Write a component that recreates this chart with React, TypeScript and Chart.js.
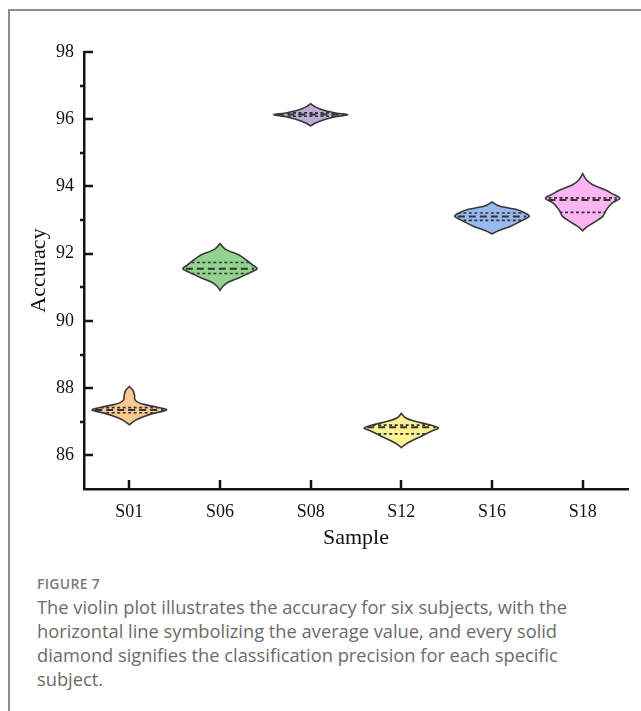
import React, { useEffect, useRef } from "react";
import { Chart, registerables } from "chart.js";

Chart.register(...registerables);

// ---------- data ----------
const categories = ["S01", "S06", "S08", "S12", "S16", "S18"];
const yTickValues = [86, 88, 90, 92, 94, 96, 98];
const yMinorTickValues = [87, 89, 91, 93, 95, 97];
const fillColors = ["#fdc991", "#93d390", "#bdacd8", "#fcf293", "#97b9f0", "#fcb4f2"];

// violin outlines: accuracy levels (top to bottom) and relative half-widths
const s01Levels = [88.05, 87.93, 87.78, 87.66, 87.57, 87.51, 87.43, 87.35, 87.25, 87.16, 87.05, 86.91];
const s01Widths = [0, 0.1, 0.14, 0.15, 0.25, 0.42, 0.75, 1.0, 0.65, 0.4, 0.17, 0];
const s06Levels = [92.3, 92.12, 91.97, 91.82, 91.67, 91.55, 91.43, 91.28, 91.15, 91.03, 90.91];
const s06Widths = [0, 0.16, 0.5, 0.7, 0.87, 1.0, 0.8, 0.5, 0.22, 0.08, 0];
const s08Levels = [96.46, 96.4, 96.33, 96.25, 96.18, 96.13, 96.08, 96.0, 95.92, 95.86, 95.8];
const s08Widths = [0, 0.08, 0.2, 0.4, 0.7, 1.0, 0.7, 0.4, 0.2, 0.08, 0];
const s12Levels = [87.25, 87.12, 87.02, 86.92, 86.82, 86.72, 86.57, 86.43, 86.33, 86.23];
const s12Widths = [0, 0.11, 0.34, 0.73, 1.0, 0.81, 0.54, 0.27, 0.11, 0];
const s16Levels = [93.54, 93.41, 93.31, 93.22, 93.11, 92.96, 92.81, 92.69, 92.59];
const s16Widths = [0, 0.22, 0.68, 0.87, 1.0, 0.76, 0.49, 0.19, 0];
const s18Levels = [94.38, 94.2, 94.05, 93.9, 93.78, 93.65, 93.51, 93.31, 93.11, 92.96, 92.81, 92.68];
const s18Widths = [0, 0.1, 0.27, 0.6, 0.8, 1.0, 0.8, 0.64, 0.54, 0.35, 0.13, 0];

const q3Values = [87.42, 91.74, 96.19, 86.9, 93.21, 93.66];
const medianValues = [87.35, 91.55, 96.14, 86.84, 93.11, 93.6];
const q1Values = [87.27, 91.41, 96.09, 86.64, 92.99, 93.23];

const violinLevels = [s01Levels, s06Levels, s08Levels, s12Levels, s16Levels, s18Levels];
const violinWidths = [s01Widths, s06Widths, s08Widths, s12Widths, s16Widths, s18Widths];

const SERIF = '"Liberation Serif", "Times New Roman", serif';
const AXIS_COLOR = "#151515";

type P = { x: number; y: number };

function smoothThrough(path: Path2D, pts: P[], moveFirst: boolean) {
  if (moveFirst) path.moveTo(pts[0].x, pts[0].y);
  for (let i = 0; i < pts.length - 1; i++) {
    const p0 = pts[i - 1] || pts[i];
    const p1 = pts[i];
    const p2 = pts[i + 1];
    const p3 = pts[i + 2] || p2;
    const c1 = { x: p1.x + (p2.x - p0.x) / 6, y: p1.y + (p2.y - p0.y) / 6 };
    const c2 = { x: p2.x - (p3.x - p1.x) / 6, y: p2.y - (p3.y - p1.y) / 6 };
    path.bezierCurveTo(c1.x, c1.y, c2.x, c2.y, p2.x, p2.y);
  }
}

const violinPlugin = {
  id: "violins",
  afterDatasetsDraw(chart: any) {
    const ctx = chart.ctx as CanvasRenderingContext2D;
    const xs = chart.scales.x;
    const ys = chart.scales.y;
    const step = xs.getPixelForValue(1) - xs.getPixelForValue(0);
    const maxHalf = step * 0.41;
    categories.forEach((_, i) => {
      const cx = xs.getPixelForValue(i);
      const levels = violinLevels[i];
      const widths = violinWidths[i];
      const right: P[] = levels.map((v, k) => ({ x: cx + widths[k] * maxHalf, y: ys.getPixelForValue(v) }));
      const left: P[] = levels.map((v, k) => ({ x: cx - widths[k] * maxHalf, y: ys.getPixelForValue(v) })).reverse();
      const path = new Path2D();
      smoothThrough(path, right, true);
      smoothThrough(path, left, false);
      path.closePath();
      ctx.save();
      ctx.fillStyle = fillColors[i];
      ctx.fill(path);
      // quartile lines clipped to the violin
      ctx.save();
      ctx.clip(path);
      ctx.strokeStyle = "#333333";
      const drawH = (v: number, dash: number[], lw: number) => {
        const y = ys.getPixelForValue(v);
        ctx.beginPath();
        ctx.setLineDash(dash);
        ctx.lineWidth = lw;
        ctx.moveTo(cx - maxHalf + 3, y);
        ctx.lineTo(cx + maxHalf - 3, y);
        ctx.stroke();
      };
      drawH(q3Values[i], [3, 2.5], 1.6);
      drawH(q1Values[i], [3, 2.5], 1.6);
      drawH(medianValues[i], [7, 4], 2);
      ctx.restore();
      ctx.setLineDash([]);
      ctx.lineWidth = 1.6;
      ctx.strokeStyle = "#383838";
      ctx.stroke(path);
      ctx.restore();
    });
  },
  afterDraw(chart: any) {
    const ctx = chart.ctx as CanvasRenderingContext2D;
    const xs = chart.scales.x;
    const ys = chart.scales.y;
    const { left, bottom } = chart.chartArea;
    ctx.save();
    ctx.strokeStyle = AXIS_COLOR;
    ctx.lineWidth = 2.5;
    ctx.beginPath();
    yTickValues.forEach((v) => {
      const y = Math.round(ys.getPixelForValue(v));
      ctx.moveTo(left, y);
      ctx.lineTo(left + 9, y);
    });
    yMinorTickValues.forEach((v) => {
      const y = Math.round(ys.getPixelForValue(v));
      ctx.moveTo(left, y);
      ctx.lineTo(left - 4, y);
    });
    categories.forEach((_, i) => {
      const x = Math.round(xs.getPixelForValue(i));
      ctx.moveTo(x, bottom);
      ctx.lineTo(x, bottom - 9);
    });
    ctx.stroke();
    ctx.restore();
  },
};

export default function App() {
  const canvasRef = useRef<HTMLCanvasElement | null>(null);

  useEffect(() => {
    const canvas = canvasRef.current;
    if (!canvas) return;
    const chart = new Chart(canvas, {
      type: "line",
      data: {
        labels: categories,
        datasets: [
          {
            data: medianValues,
            showLine: false,
            pointRadius: 0,
            borderColor: "transparent",
            backgroundColor: "transparent",
          },
        ],
      },
      options: {
        responsive: false,
        animation: false,
        events: [],
        layout: { padding: { top: 52, right: 13, left: 0, bottom: 0 } },
        plugins: { legend: { display: false }, tooltip: { enabled: false }, title: { display: false } },
        scales: {
          x: {
            type: "category",
            offset: true,
            grid: { display: false, drawTicks: false },
            border: { display: true, color: AXIS_COLOR, width: 2.5 },
            ticks: { padding: 12, color: "#111", font: { family: SERIF, size: 18 }, maxRotation: 0 },
            title: {
              display: true,
              text: "Sample",
              color: "#111",
              font: { family: SERIF, size: 22 },
              padding: { top: 0, bottom: 9 },
            },
            afterFit: (s: any) => {
              s.height = 71;
            },
          },
          y: {
            type: "linear",
            min: 85,
            max: 98,
            grid: { display: false, drawTicks: false },
            border: { display: true, color: AXIS_COLOR, width: 2.5 },
            ticks: { padding: 10, color: "#111", font: { family: SERIF, size: 18 } },
            afterBuildTicks: (s: any) => {
              s.ticks = yTickValues.map((v) => ({ value: v }));
            },
            title: {
              display: true,
              text: "Accuracy",
              color: "#111",
              font: { family: SERIF, size: 22 },
              padding: { top: 26, bottom: 0 },
            },
            afterFit: (s: any) => {
              s.width = 84;
            },
          },
        },
      },
      plugins: [violinPlugin],
    } as any);
    return () => chart.destroy();
  }, []);

  return (
    <div
      style={{
        position: "absolute",
        left: 0,
        top: 0,
        width: 641,
        height: 711,
        overflow: "hidden",
        background: "#fff",
      }}
    >
      <div
        style={{
          position: "absolute",
          left: 8,
          top: 9,
          width: 800,
          height: 900,
          borderLeft: "2px solid #8e8e8e",
          borderTop: "2px solid #8e8e8e",
        }}
      />
      <canvas
        ref={canvasRef}
        width={641}
        height={560}
        style={{ position: "absolute", left: 0, top: 0, width: 641, height: 560 }}
      />
      <div
        style={{
          position: "absolute",
          left: 37,
          top: 574,
          fontFamily: '"Open Sans", "Noto Sans", sans-serif',
          fontSize: 14,
          fontWeight: 600,
          color: "#7a7a7a",
          letterSpacing: 0.3,
        }}
      >
        FIGURE 7
      </div>
      <div
        style={{
          position: "absolute",
          left: 37,
          top: 595,
          width: 570,
          fontFamily: '"Open Sans", "Noto Sans", sans-serif',
          fontSize: 18.3,
          lineHeight: "24px",
          color: "#6b6b6b",
        }}
      >
        The violin plot illustrates the accuracy for six subjects, with the horizontal line symbolizing the average
        value, and every solid diamond signifies the classification precision for each specific subject.
      </div>
    </div>
  );
}
